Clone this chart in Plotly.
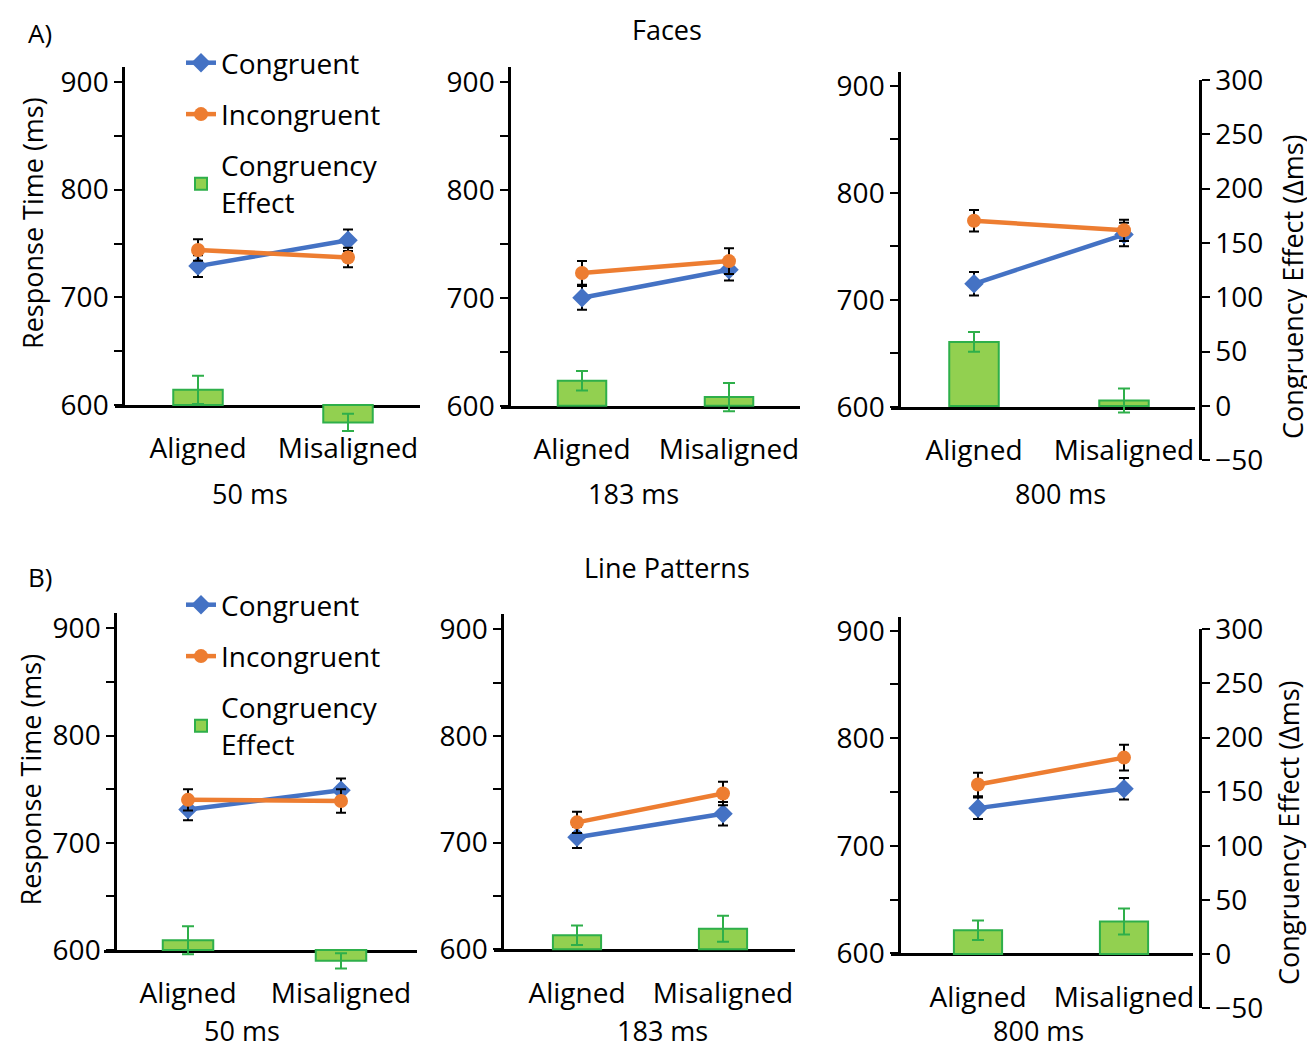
import plotly.graph_objects as go

# page body has an 8px margin: the figure is drawn from (8, 8)
OFF = 8
W, H = 1315 - OFF, 1052 - OFF

# ---------------- data ----------------
conditions = ["Aligned", "Misaligned"]
durations = ["50 ms", "183 ms", "800 ms"]
row_titles = ["Faces", "Line Patterns"]
row_letters = ["A)", "B)"]
rt_ticks = [600, 650, 700, 750, 800, 850, 900]
rt_ticktext = ["600", "", "700", "", "800", "", "900"]
ce_ticks = [-50, 0, 50, 100, 150, 200, 250, 300]

faces_congruent = [[729, 753], [700, 726], [715, 761]]
faces_congruent_err = [[10, 10], [11, 10], [11, 11]]
faces_incongruent = [[744, 737], [723, 734], [774, 765]]
faces_incongruent_err = [[10, 9], [11, 12], [10, 10]]
faces_effect = [[14, -16], [23, 8], [59, 5]]
faces_effect_err = [[13, 8], [9, 13], [9, 11]]

lines_congruent = [[731, 749], [705, 727], [735, 753]]
lines_congruent_err = [[10, 11], [10, 11], [10, 10]]
lines_incongruent = [[740, 739], [719, 746], [757, 782]]
lines_incongruent_err = [[10, 11], [10, 11], [11, 12]]
lines_effect = [[9, -10], [13, 19], [22, 30]]
lines_effect_err = [[13, 7], [9, 12], [9, 12]]

rows = [
    (faces_congruent, faces_congruent_err, faces_incongruent, faces_incongruent_err,
     faces_effect, faces_effect_err),
    (lines_congruent, lines_congruent_err, lines_incongruent, lines_incongruent_err,
     lines_effect, lines_effect_err),
]

# ---------------- layout geometry (pixels in the 1315x1052 window) ----------------
geo = [
    dict(yl=123, xs=115, xe=420, top=67, y600=405.0, y900=82.0, c0=198, c1=348, b0=405.0, k=1.0867),
    dict(yl=509, xs=501, xe=800, top=67, y600=405.7, y900=82.0, c0=582, c1=729, b0=405.7, k=1.0867),
    dict(yl=899, xs=891, xe=1195, top=72, y600=406.7, y900=86.0, c0=974, c1=1124, b0=406.0, k=1.0867),
    dict(yl=115, xs=104, xe=417, top=613, y600=950.0, y900=628.3, c0=188, c1=341, b0=950.0, k=1.0823),
    dict(yl=502, xs=494, xe=795, top=614, y600=949.3, y900=629.3, c0=577, c1=723, b0=949.3, k=1.0823),
    dict(yl=899, xs=891, xe=1193, top=617, y600=953.3, y900=630.7, c0=978, c1=1124, b0=954.0, k=1.0823),
]
right_axis_px = 1200

FONT = "Open Sans"
FS = 28
FT = 27
BLUE = "#4472C4"
ORANGE = "#ED7D31"
GREEN_FILL = "#92D050"
GREEN_LINE = "#2EAF4A"
CLEAR = "rgba(0,0,0,0)"


def fx(p):
    return (p - OFF) / W


def fy(p):
    return 1 - (p - OFF) / H


fig = go.Figure()
layout = {}

for p in range(6):
    r, c = divmod(p, 3)
    g = geo[p]
    cong, cong_e, inc, inc_e, eff, eff_e = rows[r]
    xa = "x" if p == 0 else f"x{p + 1}"
    ya = "y" if p == 0 else f"y{p + 1}"
    yb = f"y{p + 7}"
    leg = "legend" if r == 0 else "legend2"
    show = c == 0

    fig.add_trace(go.Bar(
        x=conditions, y=eff[c], width=0.33,
        marker=dict(color=GREEN_FILL, line=dict(color=GREEN_LINE, width=2)),
        error_y=dict(type="data", array=eff_e[c], color=GREEN_LINE, thickness=2, width=6),
        name="Congruency<br>Effect", legendgroup="e", legendrank=3,
        showlegend=show, legend=leg, xaxis=xa, yaxis=yb,
    ))
    fig.add_trace(go.Scatter(
        x=conditions, y=cong[c], mode="lines+markers",
        line=dict(color=BLUE, width=4.5),
        marker=dict(symbol="diamond", size=15, color=BLUE),
        error_y=dict(type="data", array=cong_e[c], color="black", thickness=2, width=5),
        name="Congruent", legendgroup="c", legendrank=1,
        showlegend=show, legend=leg, xaxis=xa, yaxis=ya, cliponaxis=False,
    ))
    fig.add_trace(go.Scatter(
        x=conditions, y=inc[c], mode="lines+markers",
        line=dict(color=ORANGE, width=4.5),
        marker=dict(symbol="circle", size=14, color=ORANGE),
        error_y=dict(type="data", array=inc_e[c], color="black", thickness=2, width=5),
        name="Incongruent", legendgroup="i", legendrank=2,
        showlegend=show, legend=leg, xaxis=xa, yaxis=ya, cliponaxis=False,
    ))

    # axes
    u = g["c1"] - g["c0"]
    xr = [-(g["c0"] - g["xs"]) / u, 1 + (g["xe"] - g["c1"]) / u]
    k = (g["y600"] - g["y900"]) / 300.0
    top_val = 600 + (g["y600"] - g["top"]) / k
    xkey = "xaxis" if p == 0 else f"xaxis{p + 1}"
    ykey = "yaxis" if p == 0 else f"yaxis{p + 1}"
    ybkey = f"yaxis{p + 7}"

    layout[xkey] = dict(
        domain=[fx(g["xs"]), fx(g["xe"])], anchor=ya, type="category",
        categoryorder="array", categoryarray=conditions, range=xr,
        showline=True, linecolor="black", linewidth=2.5,
        ticks="outside", ticklen=17, tickcolor=CLEAR,
        tickfont=dict(family=FONT, size=FS, color="black"),
        showgrid=False, zeroline=False, fixedrange=True, automargin=False,
    )
    layout[ykey] = dict(
        domain=[fy(g["y600"]), fy(g["top"])], anchor="free", position=fx(g["yl"]),
        range=[600, top_val], tickvals=rt_ticks, ticktext=rt_ticktext,
        showline=True, linecolor="black", linewidth=2.5,
        ticks="outside", ticklen=8, tickwidth=2, tickcolor="black",
        tickfont=dict(family=FONT, size=FS, color="black"),
        showgrid=False, zeroline=False, fixedrange=True, automargin=False,
    )
    bk = g["k"]
    b300 = g["b0"] - 300 * bk
    bm50 = g["b0"] + 50 * bk
    yb_cfg = dict(
        domain=[fy(bm50), fy(b300)], range=[-50, 300], anchor="free",
        showgrid=False, zeroline=False, fixedrange=True, automargin=False,
    )
    if c == 2:
        yb_cfg.update(dict(
            visible=True, side="right", position=fx(right_axis_px),
            tickvals=ce_ticks, showline=True, linecolor="black", linewidth=2.5,
            ticks="outside", ticklen=8, tickwidth=2, tickcolor="black",
            tickfont=dict(family=FONT, size=FS, color="black"),
        ))
    else:
        yb_cfg.update(dict(visible=False, position=fx(g["yl"])))
    layout[ybkey] = yb_cfg


def label(text, px, py, size=FT, xanchor="center", yanchor="middle", angle=0):
    return dict(text=text, x=fx(px), y=fy(py), xref="paper", yref="paper",
                xanchor=xanchor, yanchor=yanchor, textangle=angle, showarrow=False,
                font=dict(family=FONT, size=size, color="black"))


annotations = []
# row letters and titles
annotations.append(label(row_letters[0], 26, 33, size=FT - 1, xanchor="left"))
annotations.append(label(row_letters[1], 26, 577, size=FT - 1, xanchor="left"))
annotations.append(label(row_titles[0], 667, OFF + 1, yanchor="top"))
annotations.append(label(row_titles[1], 667, 567))
# duration labels
annotations.append(label(durations[0], 250, 493))
annotations.append(label(durations[1], 633, 493))
annotations.append(label(durations[2], 1060, 493))
annotations.append(label(durations[0], 242, 1051, yanchor="bottom"))
annotations.append(label(durations[1], 662, 1051, yanchor="bottom"))
annotations.append(label(durations[2], 1038, 1051, yanchor="bottom"))
# y axis titles
annotations.append(label("Response Time (ms)", 33, 223, angle=-90))
annotations.append(label("Response Time (ms)", OFF + 1, 780, angle=-90, xanchor="left"))
annotations.append(label("Congruency Effect (Δms)", 1293, 287, angle=-90))
annotations.append(label("Congruency Effect (Δms)", 1288, 833, angle=-90))

legend_common = dict(
    xanchor="left", yanchor="top", bgcolor=CLEAR,
    font=dict(family=FONT, size=FS, color="black"),
    tracegroupgap=12, itemwidth=30,
)
layout["legend"] = dict(x=fx(181), y=fy(38), **legend_common)
layout["legend2"] = dict(x=fx(181), y=fy(580), **legend_common)

fig.update_layout(
    width=W, height=H, autosize=False,
    margin=dict(l=0, r=0, t=0, b=0, autoexpand=False),
    paper_bgcolor="white", plot_bgcolor=CLEAR,
    font=dict(family=FONT, size=FS, color="black"),
    annotations=annotations,
    **layout,
)

fig.write_html("out.html")
